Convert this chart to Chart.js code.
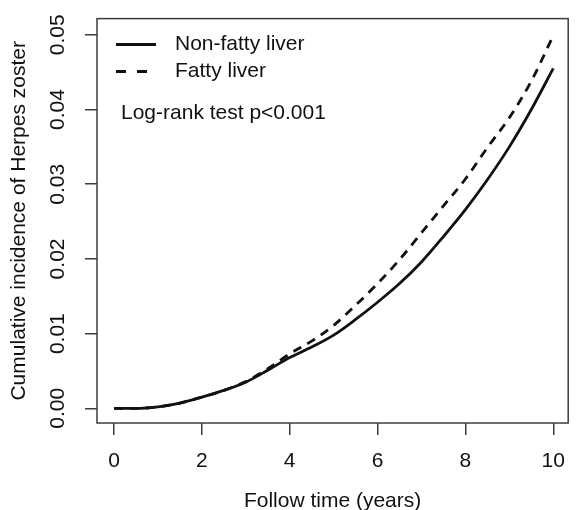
<!DOCTYPE html>
<html>
<head>
<title>Cumulative incidence of Herpes zoster</title>
<style>
  body { margin: 0; background: #fff; }
  #wrap { width: 579px; height: 510px; }
</style>
</head>
<body>
<div id="wrap">
  <canvas id="myChart"></canvas>
</div>

<script src="https://cdn.jsdelivr.net/npm/chart.js"></script>
<script>
// follow-up time in years
const years = [0, 0.5, 1, 1.5, 2, 2.5, 3, 3.5, 4, 4.5, 5, 5.5, 6, 6.5, 7, 7.5, 8, 8.5, 9, 9.5, 10];
const nonFatty = [0, 0, 0.0002, 0.0007, 0.0015, 0.0024, 0.0035, 0.0051, 0.0068, 0.0082, 0.0098, 0.0119,
                  0.0142, 0.0167, 0.0196, 0.0230, 0.0266, 0.0306, 0.0350, 0.0400, 0.0455];
const fatty    = [0, 0, 0.0002, 0.0007, 0.0015, 0.0024, 0.0036, 0.0053, 0.0073, 0.0090, 0.0111, 0.0138,
                  0.0167, 0.0199, 0.0235, 0.0271, 0.0307, 0.0349, 0.0389, 0.0438, 0.0499];
const xTicks = [0, 2, 4, 6, 8, 10];
const yTicks = [0, 0.01, 0.02, 0.03, 0.04, 0.05];
const seriesNames = ['Non-fatty liver', 'Fatty liver'];
const noteText = 'Log-rank test p<0.001';

const FONT = "'Liberation Sans', Arial, sans-serif";
const ink = '#111';
const frame = '#3c3c3c';

function toPoints(ys) {
  return years.map((x, i) => ({x: x, y: ys[i]}));
}

// box around the plot, legend and the test note (R style)
const boxAndLegend = {
  id: 'boxAndLegend',
  afterDatasetsDraw(chart) {
    const ctx = chart.ctx;
    const a = chart.chartArea;
    ctx.save();
    ctx.strokeStyle = frame;
    ctx.lineWidth = 1.5;
    ctx.strokeRect(a.left, a.top, a.right - a.left, a.bottom - a.top);

    ctx.font = '21px ' + FONT;
    ctx.fillStyle = ink;
    ctx.textBaseline = 'middle';
    chart.data.datasets.forEach((ds, i) => {
      const y = a.top + 26 + i * 27;
      ctx.beginPath();
      ctx.strokeStyle = ink;
      ctx.lineWidth = 3;
      ctx.setLineDash(i === 0 ? [] : [10, 11]);
      ctx.moveTo(a.left + 19, y);
      ctx.lineTo(a.left + 59, y);
      ctx.stroke();
      ctx.setLineDash([]);
      ctx.fillText(ds.label, a.left + 78, y);
    });
    ctx.fillText(noteText, a.left + 24, a.top + 95);
    ctx.restore();
  }
};

const data = {
  datasets: [{
    label: seriesNames[0],
    data: toPoints(nonFatty),
    borderColor: ink,
    borderWidth: 2.8,
    pointRadius: 0,
    cubicInterpolationMode: 'monotone'
  }, {
    label: seriesNames[1],
    data: toPoints(fatty),
    borderColor: ink,
    borderWidth: 2.8,
    borderDash: [9, 7],
    pointRadius: 0,
    cubicInterpolationMode: 'monotone'
  }]
};

const config = {
  type: 'line',
  data: data,
  plugins: [boxAndLegend],
  options: {
    responsive: true,
    maintainAspectRatio: false,
    animation: false,
    layout: { padding: { top: 17, right: 2, left: 0, bottom: 0 } },
    plugins: {
      legend: { display: false },
      tooltip: { enabled: false }
    },
    scales: {
      x: {
        type: 'linear',
        min: -0.387,
        max: 10.34,
        afterBuildTicks: s => { s.ticks = xTicks.map(v => ({value: v})); },
        afterFit: s => { s.height = 87; },
        border: { display: false },
        grid: { drawOnChartArea: false, tickLength: 12, color: frame, lineWidth: 1.5 },
        ticks: {
          color: ink,
          padding: 14,
          maxRotation: 0,
          font: { family: FONT, size: 21 },
          callback: v => String(v)
        },
        title: {
          display: true,
          text: 'Follow time (years)',
          color: ink,
          font: { family: FONT, size: 21, lineHeight: 1 },
          padding: { top: 0, bottom: -1.5 }
        }
      },
      y: {
        type: 'linear',
        min: -0.00196,
        max: 0.05217,
        afterBuildTicks: s => { s.ticks = yTicks.map(v => ({value: v})); },
        afterFit: s => { s.width = 97; },
        border: { display: false },
        grid: { drawOnChartArea: false, tickLength: 12, color: frame, lineWidth: 1.5 },
        ticks: {
          color: ink,
          padding: 6,
          minRotation: 90,
          maxRotation: 90,
          crossAlign: 'center',
          font: { family: FONT, size: 21 },
          callback: v => v.toFixed(2)
        },
        title: {
          display: true,
          text: 'Cumulative incidence of Herpes zoster',
          color: ink,
          font: { family: FONT, size: 21, lineHeight: 1 },
          padding: { top: 9, bottom: 0 }
        }
      }
    }
  }
};

const myChart = new Chart(document.getElementById('myChart'), config);
</script>
</body>
</html>
